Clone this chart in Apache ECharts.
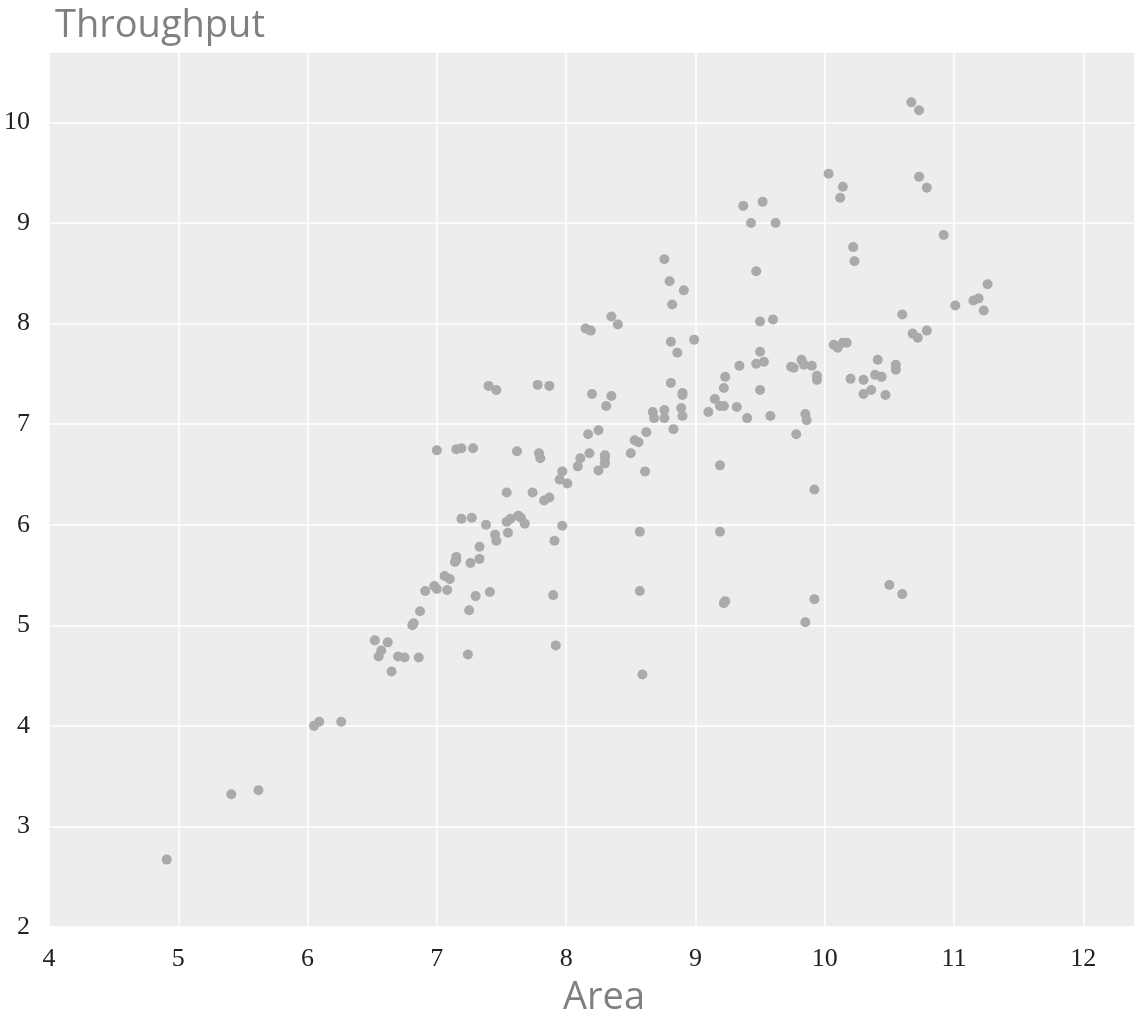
<!DOCTYPE html>
<html>
<head>
<meta charset="utf-8">
<script src="https://cdn.jsdelivr.net/npm/echarts@6/dist/echarts.min.js"></script>
<style>
html,body{margin:0;padding:0;background:#fff;}
#chart{width:1138px;height:1029px;}
</style>
</head>
<body>
<div id="chart"></div>
<script>
const areaValues = [4.91,5.41,5.62,6.05,6.09,6.26,6.52,6.62,6.57,6.55,6.70,6.75,6.86,6.65,6.81,6.82,6.87,6.91,6.98,7.00,
7.08,7.06,7.10,7.15,7.15,7.14,7.26,7.33,7.33,7.30,7.25,7.41,7.24,7.19,7.27,7.38,7.45,7.46,7.55,7.54,
7.57,7.63,7.65,7.68,7.54,7.74,7.83,7.87,7.97,7.91,7.90,7.92,7.00,7.15,7.19,7.28,7.62,7.79,7.80,7.97,
7.95,8.01,8.09,8.11,8.18,8.17,8.25,8.25,8.30,8.30,8.30,8.50,8.53,8.56,8.62,8.61,8.57,8.57,8.59,7.40,
7.46,7.78,7.87,8.15,8.19,8.35,8.40,8.20,8.35,8.31,8.67,8.68,8.76,8.76,8.83,8.89,8.90,8.81,8.90,8.90,
8.81,8.86,8.82,8.99,9.10,9.15,9.19,9.22,9.23,9.22,10.03,10.14,10.12,10.73,10.79,9.37,9.52,9.43,9.62,10.22,
10.23,8.76,8.80,8.91,9.47,9.50,9.60,10.60,10.68,10.72,10.79,9.19,9.32,9.34,9.40,9.50,9.47,9.53,9.50,9.58,
9.74,9.76,9.82,9.84,9.90,9.94,9.94,9.85,9.86,9.78,10.07,10.10,10.14,10.17,10.20,10.30,10.41,10.39,10.44,10.30,
10.36,10.47,10.55,10.55,10.67,10.73,10.92,11.26,11.01,11.15,11.19,11.23,9.92,9.19,9.22,9.23,9.92,9.85,10.50,10.60];
const throughputValues = [2.67,3.32,3.36,4.00,4.04,4.04,4.85,4.83,4.75,4.69,4.69,4.68,4.68,4.54,5.00,5.02,5.14,5.34,5.39,5.36,
5.35,5.49,5.46,5.68,5.65,5.63,5.62,5.66,5.78,5.29,5.15,5.33,4.71,6.06,6.07,6.00,5.90,5.84,5.92,6.03,
6.06,6.09,6.07,6.01,6.32,6.32,6.24,6.27,5.99,5.84,5.30,4.80,6.74,6.75,6.76,6.76,6.73,6.71,6.66,6.53,
6.45,6.41,6.58,6.66,6.71,6.90,6.94,6.54,6.66,6.69,6.61,6.71,6.84,6.82,6.92,6.53,5.93,5.34,4.51,7.38,
7.34,7.39,7.38,7.95,7.93,8.07,7.99,7.30,7.28,7.18,7.12,7.06,7.14,7.06,6.95,7.16,7.08,7.41,7.31,7.29,
7.82,7.71,8.19,7.84,7.12,7.25,7.18,7.18,7.47,7.36,9.49,9.36,9.25,9.46,9.35,9.17,9.21,9.00,9.00,8.76,
8.62,8.64,8.42,8.33,8.52,8.02,8.04,8.09,7.90,7.86,7.93,6.59,7.17,7.58,7.06,7.72,7.60,7.62,7.34,7.08,
7.57,7.56,7.64,7.59,7.58,7.48,7.44,7.10,7.04,6.90,7.79,7.76,7.81,7.81,7.45,7.44,7.64,7.49,7.47,7.30,
7.34,7.29,7.59,7.54,10.20,10.12,8.88,8.39,8.18,8.23,8.25,8.13,6.35,5.93,5.22,5.24,5.26,5.03,5.40,5.31];
const xTicks = [4,5,6,7,8,9,10,11,12];
const yTicks = [2,3,4,5,6,7,8,9,10];

const points = areaValues.map((x, i) => [x, throughputValues[i]]);
const chart = echarts.init(document.getElementById('chart'), null, {renderer: 'canvas'});
chart.setOption({
  animation: false,
  backgroundColor: '#ffffff',
  title: {
    text: 'Throughput',
    left: 55, top: 7, padding: 0,
    textStyle: {fontFamily: 'Open Sans', fontSize: 38, fontWeight: 'normal', color: '#808080'}
  },
  grid: {left: 49, right: 0, top: 52, bottom: 102, show: true, backgroundColor: '#EDEDED', borderWidth: 0},
  xAxis: {
    type: 'value', min: 4, max: 12.4, interval: 1,
    name: 'Area', nameLocation: 'middle', nameGap: 52,
    nameTextStyle: {fontFamily: 'Open Sans', fontSize: 38, color: '#808080', padding: [0, 0, 0, 24]},
    axisLine: {show: false}, axisTick: {show: false},
    axisLabel: {
      margin: 19, fontFamily: 'Liberation Serif', fontSize: 26, color: '#222',
      formatter: v => xTicks.includes(v) ? String(v) : ''
    },
    splitLine: {show: true, lineStyle: {color: '#ffffff', width: 1.5}}
  },
  yAxis: {
    type: 'value', min: 2, max: 10.7, interval: 1,
    axisLine: {show: false}, axisTick: {show: false},
    axisLabel: {
      margin: 19, fontFamily: 'Liberation Serif', fontSize: 26, color: '#222',
      formatter: v => yTicks.includes(v) ? String(v) : ''
    },
    splitLine: {show: true, lineStyle: {color: '#ffffff', width: 1.5}}
  },
  series: [{
    type: 'scatter',
    data: points,
    symbolSize: 10,
    itemStyle: {color: '#AAAAAA', opacity: 1}
  }]
});
</script>
</body>
</html>
